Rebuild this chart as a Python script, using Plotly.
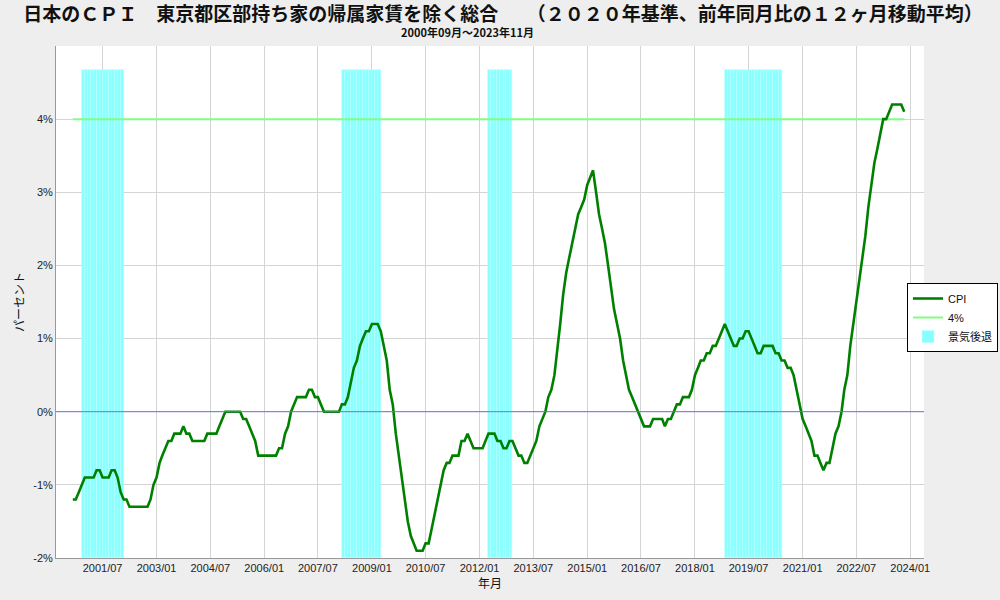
import pandas as pd
import plotly.graph_objects as go

# ---------------- data ----------------
START_MONTH = "2000-09-01"

# CPI (Tokyo ku-area, excl. imputed rent), 12-month moving average of y/y change (%)
cpi = [
    # 2000 Sep-Dec
    -1.2, -1.2, -1.1, -1.0,
    # 2001
    -0.9, -0.9, -0.9, -0.9, -0.8, -0.8, -0.9, -0.9, -0.9, -0.8, -0.8, -0.9,
    # 2002
    -1.1, -1.2, -1.2, -1.3, -1.3, -1.3, -1.3, -1.3, -1.3, -1.3, -1.2, -1.0,
    # 2003
    -0.9, -0.7, -0.6, -0.5, -0.4, -0.4, -0.3, -0.3, -0.3, -0.2, -0.3, -0.3,
    # 2004
    -0.4, -0.4, -0.4, -0.4, -0.4, -0.3, -0.3, -0.3, -0.3, -0.2, -0.1, 0.0,
    # 2005
    0.0, 0.0, 0.0, 0.0, 0.0, -0.1, -0.1, -0.2, -0.3, -0.4, -0.6, -0.6,
    # 2006
    -0.6, -0.6, -0.6, -0.6, -0.6, -0.5, -0.5, -0.3, -0.2, 0.0, 0.1, 0.2,
    # 2007
    0.2, 0.2, 0.2, 0.3, 0.3, 0.2, 0.2, 0.1, 0.0, 0.0, 0.0, 0.0,
    # 2008
    0.0, 0.0, 0.1, 0.1, 0.2, 0.4, 0.6, 0.7, 0.9, 1.0, 1.1, 1.1,
    # 2009
    1.2, 1.2, 1.2, 1.1, 0.9, 0.7, 0.3, 0.1, -0.3, -0.6, -0.9, -1.2,
    # 2010
    -1.5, -1.7, -1.8, -1.9, -1.9, -1.9, -1.8, -1.8, -1.6, -1.4, -1.2, -1.0,
    # 2011
    -0.8, -0.7, -0.7, -0.6, -0.6, -0.6, -0.4, -0.4, -0.3, -0.4, -0.5, -0.5,
    # 2012
    -0.5, -0.5, -0.4, -0.3, -0.3, -0.3, -0.4, -0.4, -0.5, -0.5, -0.4, -0.4,
    # 2013
    -0.5, -0.6, -0.6, -0.7, -0.7, -0.6, -0.5, -0.4, -0.2, -0.1, 0.0, 0.2,
    # 2014
    0.3, 0.5, 0.8, 1.2, 1.6, 1.9, 2.1, 2.3, 2.5, 2.7, 2.8, 2.9,
    # 2015
    3.1, 3.2, 3.3, 3.0, 2.7, 2.5, 2.3, 2.0, 1.7, 1.4, 1.2, 1.0,
    # 2016
    0.7, 0.5, 0.3, 0.2, 0.1, 0.0, -0.1, -0.2, -0.2, -0.2, -0.1, -0.1,
    # 2017
    -0.1, -0.1, -0.2, -0.1, -0.1, 0.0, 0.1, 0.1, 0.2, 0.2, 0.2, 0.3,
    # 2018
    0.5, 0.6, 0.7, 0.7, 0.8, 0.8, 0.9, 0.9, 1.0, 1.1, 1.2, 1.1,
    # 2019
    1.0, 0.9, 0.9, 1.0, 1.0, 1.1, 1.1, 1.0, 0.9, 0.8, 0.8, 0.9,
    # 2020
    0.9, 0.9, 0.9, 0.8, 0.8, 0.7, 0.7, 0.6, 0.6, 0.5, 0.3, 0.1,
    # 2021
    -0.1, -0.2, -0.3, -0.4, -0.6, -0.6, -0.7, -0.8, -0.7, -0.7, -0.5, -0.3,
    # 2022
    -0.2, 0.0, 0.3, 0.5, 0.9, 1.2, 1.5, 1.8, 2.1, 2.4, 2.8, 3.1,
    # 2023 Jan-Nov
    3.4, 3.6, 3.8, 4.0, 4.0, 4.1, 4.2, 4.2, 4.2, 4.2, 4.1,
]

THRESHOLD = 4.0            # reference line "4%"
RECESSION_TOP = 4.67       # top of recession bars
RECESSION_BASE = -2.0      # bottom of recession bars
recessions = [             # (first month, last month)
    ("2000-12-01", "2002-01-01"),
    ("2008-03-01", "2009-03-01"),
    ("2012-04-01", "2012-11-01"),
    ("2018-11-01", "2020-05-01"),
]

y_tickvals = [-2, -1, 0, 1, 2, 3, 4]
y_ticktext = ["-2%", "-1%", "0%", "1%", "2%", "3%", "4%"]

TITLE = "日本のＣＰＩ　東京都区部持ち家の帰属家賃を除く総合　　（２０２０年基準、前年同月比の１２ヶ月移動平均）"
SUBTITLE = "2000年09月～2023年11月"

# ---------------- build ----------------
months = pd.date_range(START_MONTH, periods=len(cpi), freq="MS")

rec_x, rec_w = [], []
for s, e in recessions:
    for d in pd.date_range(s, e, freq="MS"):
        nxt = d + pd.offsets.MonthBegin(1)
        rec_x.append(d)
        rec_w.append((nxt - d).total_seconds() * 1000.0)

fig = go.Figure()

fig.add_trace(go.Bar(
    x=rec_x, y=[RECESSION_TOP - RECESSION_BASE] * len(rec_x), base=RECESSION_BASE,
    width=rec_w, offset=0,
    name="景気後退", marker=dict(color="#88FFFF", line=dict(color="#B8FFFF", width=0.6)),
    legendrank=3, hoverinfo="skip",
))
fig.add_trace(go.Scatter(
    x=months, y=[THRESHOLD] * len(months), mode="lines", name="4%",
    line=dict(color="#80FF80", width=2), legendrank=2,
))
fig.add_trace(go.Scatter(
    x=months, y=cpi, mode="lines", name="CPI",
    line=dict(color="#008000", width=2.6), legendrank=1,
))

FONT = "Liberation Sans, Arial, Noto Sans CJK JP"
CJK = "Noto Sans CJK JP"

fig.update_layout(
    width=1000, height=600,
    margin=dict(l=56, r=76, t=46, b=42, autoexpand=False),
    paper_bgcolor="#EEEEEE", plot_bgcolor="white",
    bargap=0, showlegend=True,
    font=dict(family=FONT, size=11, color="#222222"),
    title=dict(text="<b>" + TITLE + "</b>", font=dict(family=CJK, size=19, color="#111111"),
               x=0.503, xref="container", xanchor="center",
               y=1 - 14 / 600, yref="container", yanchor="middle"),
    legend=dict(xref="container", x=0.998, xanchor="right",
                yref="container", y=1 - 283 / 600, yanchor="top",
                bgcolor="white", bordercolor="#000000", borderwidth=1,
                font=dict(family=FONT, size=11, color="#111111"),
                tracegroupgap=0),
    annotations=[dict(text="<b>" + SUBTITLE + "</b>", xref="paper", yref="paper",
                      x=(467 - 56) / 868, y=(558 - 32) / 512, showarrow=False,
                      xanchor="center", yanchor="middle",
                      font=dict(family=CJK, size=11, color="#111111"))],
    # zero reference line kept visible above the recession shading
    shapes=[dict(type="line", xref="paper", x0=0, x1=1, yref="y", y0=0, y1=0,
                 line=dict(color="#7070E0", width=1), layer="above")],
)

fig.update_xaxes(
    type="date", range=["2000-03-14", "2024-05-20"],
    tick0="2001-07-01", dtick="M18", tickformat="%Y/%m",
    showgrid=True, gridcolor="#D4D4D4", gridwidth=1,
    showline=True, linecolor="#999999", linewidth=1,
    ticks="", tickfont=dict(size=11, color="#222222"),
    title=dict(text="年月", font=dict(family=CJK, size=12, color="#111111"), standoff=6),
)
fig.update_yaxes(
    range=[-2, 5], tickvals=y_tickvals, ticktext=y_ticktext,
    showgrid=True, gridcolor="#D4D4D4", gridwidth=1,
    zeroline=False,
    showline=True, linecolor="#999999", linewidth=1,
    ticks="", tickfont=dict(size=11, color="#222222"),
    title=dict(text="パーセント", font=dict(family=CJK, size=12, color="#111111"), standoff=6),
)

fig.write_html(
    "out.html",
    config={"displayModeBar": False},
    post_script="document.body.style.margin='0';document.body.style.background='#EEEEEE';",
)
